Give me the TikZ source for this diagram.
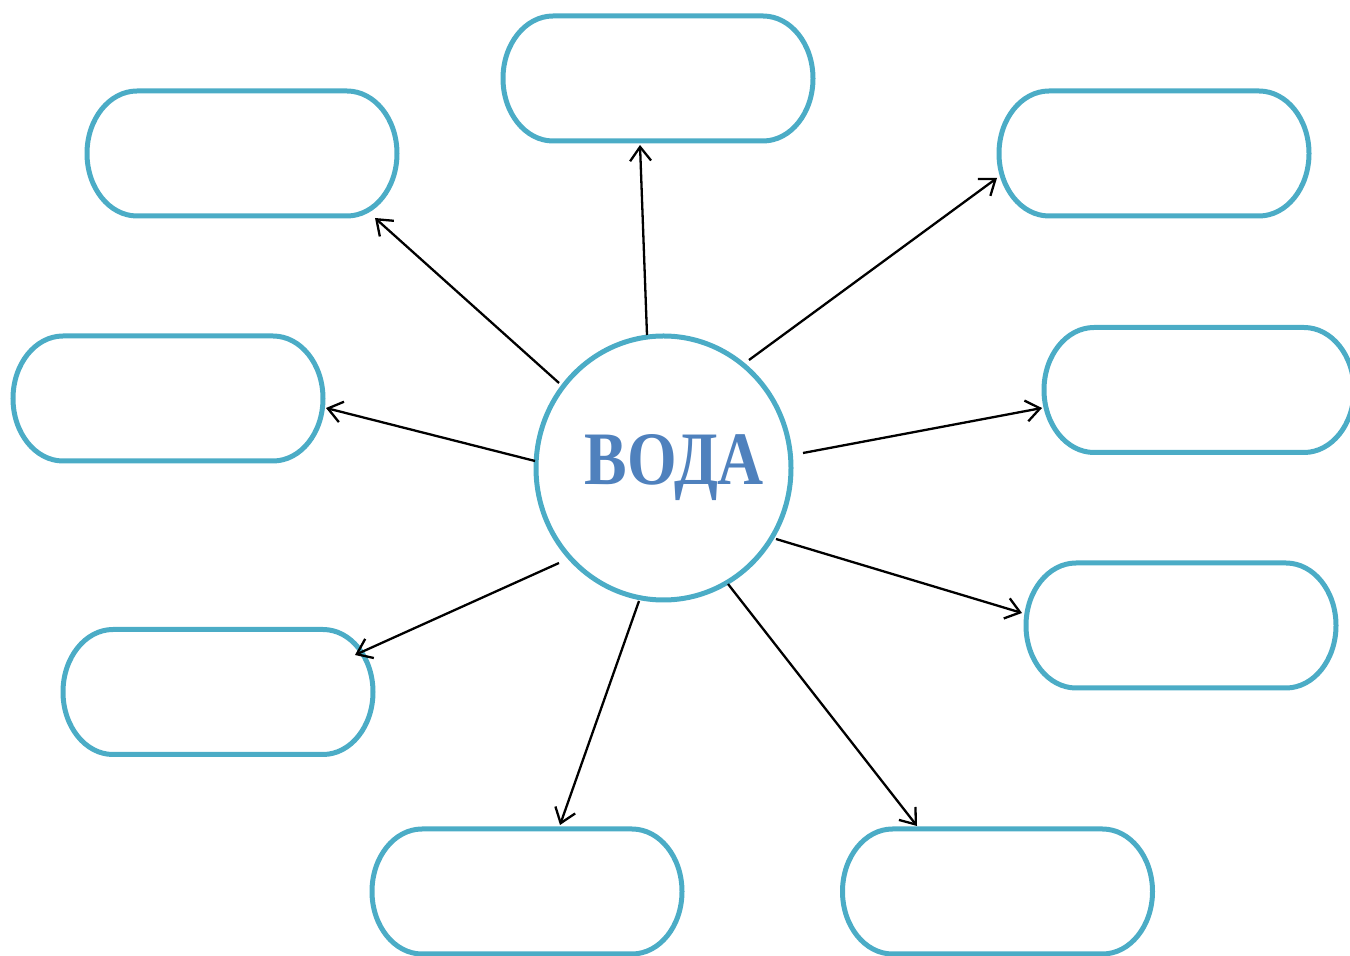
\documentclass[tikz,border=0pt]{standalone}
\usepackage{fontspec}
\setmainfont{Liberation Serif}
\usetikzlibrary{arrows.meta,shapes.geometric}
\definecolor{teal}{HTML}{4BACC6}
\definecolor{vodablue}{HTML}{4F81BD}
\tikzset{
  boxnode/.style={rectangle,draw=none,inner sep=0pt,outer sep=0pt,minimum width=310pt,minimum height=125pt},
  boxline/.style={draw=teal,line width=5pt},
  hubnode/.style={ellipse,draw=teal,line width=5pt,inner sep=0pt,minimum width=255pt,minimum height=264pt},
  conn/.style={draw=black,line width=2.3pt,-{Straight Barb[length=14pt,width=21pt]}},
}
\newcommand{\ovalbox}[3]{%
  \node[boxnode] (#1) at (#2,#3) {};
  \draw[boxline] ([xshift=50pt]#1.north west) -- ([xshift=-50pt]#1.north east)
     arc[start angle=90,end angle=-90,x radius=50pt,y radius=62.5pt]
     -- ([xshift=50pt]#1.south west)
     arc[start angle=270,end angle=90,x radius=50pt,y radius=62.5pt] -- cycle;}
\begin{document}
\begin{tikzpicture}[x=1pt,y=1pt]
\useasboundingbox (0,0) rectangle (1350,956);
\ovalbox{b1}{658}{877.5}
\ovalbox{b2}{242}{802.5}
\ovalbox{b3}{1154}{802.5}
\ovalbox{b4}{168}{557.5}
\ovalbox{b5}{1199}{566}
\ovalbox{b6}{218}{264}
\ovalbox{b7}{1181}{330.5}
\ovalbox{b8}{527}{64.5}
\ovalbox{b9}{997.5}{64.5}
\node[hubnode] (hub) at (663.5,488) {};
\node[anchor=base,text=vodablue,inner sep=0pt] (voda) at (674.5,471) {\resizebox{179pt}{50pt}{\bfseries ВОДА}};
% arrow endpoints
\coordinate (s1) at (647,621); \coordinate (t1) at (640,811);
\coordinate (s2) at (559,573); \coordinate (t2) at (375,738);
\coordinate (s3) at (749,596); \coordinate (t3) at (997,778);
\coordinate (s4) at (535,495); \coordinate (t4) at (326,548);
\coordinate (s5) at (803,503); \coordinate (t5) at (1042,548);
\coordinate (s6) at (776,417); \coordinate (t6) at (1022,343);
\coordinate (s7) at (728,372); \coordinate (t7) at (917,130);
\coordinate (s8) at (639,355); \coordinate (t8) at (560,131);
\coordinate (s9) at (559,393); \coordinate (t9) at (355,301);
\foreach \i in {1,...,9}{\draw[conn] (s\i) -- (t\i);}
\end{tikzpicture}
\end{document}
